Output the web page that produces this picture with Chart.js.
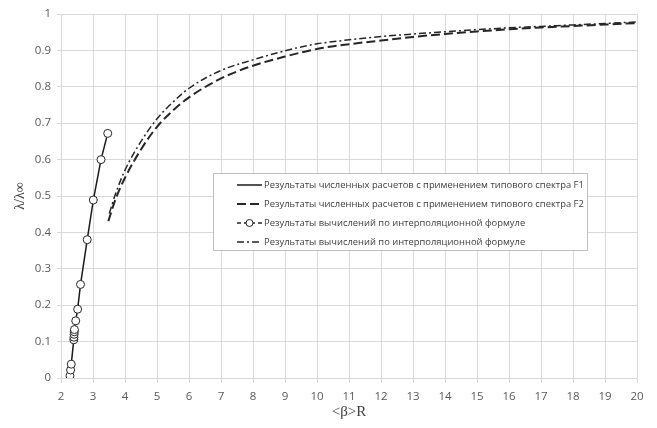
<!DOCTYPE html>
<html>
<head>
<meta charset="utf-8">
<script src="https://cdn.jsdelivr.net/npm/chart.js@4/dist/chart.umd.min.js"></script>
<style>
  html, body { margin: 0; padding: 0; background: #fff; }
  #wrap { width: 657px; height: 428px; }
</style>
</head>
<body>
<div id="wrap"><canvas id="lambdaChart"></canvas></div>
<script>
// numerical results, spectrum F1 (same points as the interpolation circles)
const f1X = [2.28, 2.30, 2.32, 2.40, 2.405, 2.41, 2.415, 2.42, 2.46, 2.52, 2.61, 2.82, 3.01, 3.25, 3.46];
const f1Y = [0.006, 0.022, 0.038, 0.105, 0.112, 0.12, 0.127, 0.133, 0.157, 0.189, 0.257, 0.38, 0.489, 0.60, 0.672];

// numerical results, spectrum F2
const f2X = [3.48, 3.7, 4, 4.5, 5, 5.5, 6, 7, 8, 9, 10, 11, 12, 13, 14, 15, 16, 17, 18, 19, 20];
const f2Y = [0.431, 0.49, 0.55, 0.628, 0.69, 0.735, 0.771, 0.823, 0.858, 0.883, 0.904, 0.917, 0.927, 0.937, 0.945, 0.952, 0.958, 0.963, 0.967, 0.971, 0.975];

// interpolation formula (dash-dot curve)
const intX = [3.51, 3.7, 4, 4.5, 5, 5.5, 6, 7, 8, 9, 10, 11, 12, 13, 14, 15, 16, 17, 18, 19, 20];
const intY = [0.452, 0.505, 0.571, 0.65, 0.712, 0.758, 0.796, 0.845, 0.874, 0.899, 0.918, 0.929, 0.938, 0.945, 0.951, 0.957, 0.962, 0.966, 0.970, 0.974, 0.978];

const legendLabels = [
    'Результаты численных расчетов с применением типового спектра F1',
    'Результаты численных расчетов с применением типового спектра F2',
    'Результаты вычислений по интерполяционной формуле',
    'Результаты вычислений по интерполяционной формуле'
];

const toPoints = (xs, ys) => xs.map((x, i) => ({ x: x, y: ys[i] }));

// legend drawn inside the plot, like the original
const legendBox = {
    id: 'legendBox',
    afterDatasetsDraw(chart) {
        const ctx = chart.ctx;
        ctx.save();
        ctx.fillStyle = '#ffffff';
        ctx.strokeStyle = '#bfbfbf';
        ctx.lineWidth = 1;
        ctx.fillRect(213.5, 173.5, 374, 77);
        ctx.strokeRect(213.5, 173.5, 374, 77);
        ctx.font = '9.4px "Open Sans"';
        ctx.textBaseline = 'middle';
        chart.data.datasets.forEach((ds, i) => {
            const y = 185 + i * 19;
            ctx.strokeStyle = ds.borderColor;
            ctx.lineWidth = ds.borderWidth;
            ctx.setLineDash(ds.borderDash || []);
            ctx.beginPath();
            ctx.moveTo(237, y);
            ctx.lineTo(262, y);
            ctx.stroke();
            ctx.setLineDash([]);
            if (ds.pointRadius) {
                ctx.fillStyle = '#fff';
                ctx.lineWidth = 1;
                ctx.beginPath();
                ctx.arc(249.5, y, 3.5, 0, Math.PI * 2);
                ctx.fill();
                ctx.stroke();
            }
            ctx.fillStyle = '#404040';
            ctx.fillText(legendLabels[i], 264, y);
        });
        ctx.restore();
    }
};

new Chart(document.getElementById('lambdaChart'), {
    type: 'scatter',
    data: {
        datasets: [
            {
                label: legendLabels[0],
                data: toPoints(f1X, f1Y),
                showLine: true,
                borderColor: '#1a1a1a',
                borderWidth: 1.5,
                pointRadius: 0,
                order: 2
            },
            {
                label: legendLabels[1],
                data: toPoints(f2X, f2Y),
                showLine: true,
                borderColor: '#262626',
                borderWidth: 2,
                borderDash: [9, 4],
                cubicInterpolationMode: 'monotone',
                pointRadius: 0
            },
            {
                label: legendLabels[2],
                data: toPoints(f1X, f1Y),
                showLine: false,
                borderColor: '#262626',
                borderWidth: 1.5,
                borderDash: [4, 3],
                pointRadius: 4,
                pointBackgroundColor: '#ffffff',
                pointBorderColor: '#262626',
                pointBorderWidth: 1,
                order: 1
            },
            {
                label: legendLabels[3],
                data: toPoints(intX, intY),
                showLine: true,
                borderColor: '#262626',
                borderWidth: 1.5,
                borderDash: [7, 3, 2, 3],
                cubicInterpolationMode: 'monotone',
                pointRadius: 0
            }
        ]
    },
    options: {
        responsive: true,
        maintainAspectRatio: false,
        animation: false,
        layout: { padding: { left: 0, right: 20, top: 14, bottom: 0 } },
        plugins: {
            legend: { display: false },
            tooltip: { enabled: false }
        },
        scales: {
            x: {
                type: 'linear',
                min: 2,
                max: 20,
                afterFit: (s) => { s.height = 50; },
                ticks: { stepSize: 1, color: '#595959', font: { family: 'Open Sans', size: 11.5 }, padding: 7 },
                grid: { color: '#d9d9d9', tickLength: 5 },
                border: { color: '#d9d9d9' },
                title: {
                    display: true,
                    text: '<β>R',
                    color: '#404040',
                    font: { family: 'Liberation Serif', size: 15 },
                    padding: { top: 0, bottom: 7 }
                }
            },
            y: {
                min: 0,
                max: 1,
                afterFit: (s) => { s.width = 61; },
                ticks: {
                    stepSize: 0.1,
                    color: '#595959',
                    font: { family: 'Open Sans', size: 11.5 },
                    padding: 6,
                    callback: (v) => String(Math.round(v * 10) / 10)
                },
                grid: { color: '#d9d9d9', tickLength: 4 },
                border: { color: '#d9d9d9' },
                title: {
                    display: true,
                    text: 'λ/λ∞',
                    color: '#404040',
                    font: { family: 'Liberation Serif', size: 14 },
                    padding: { top: 12, bottom: 0 }
                }
            }
        }
    },
    plugins: [legendBox]
});
</script>
</body>
</html>
